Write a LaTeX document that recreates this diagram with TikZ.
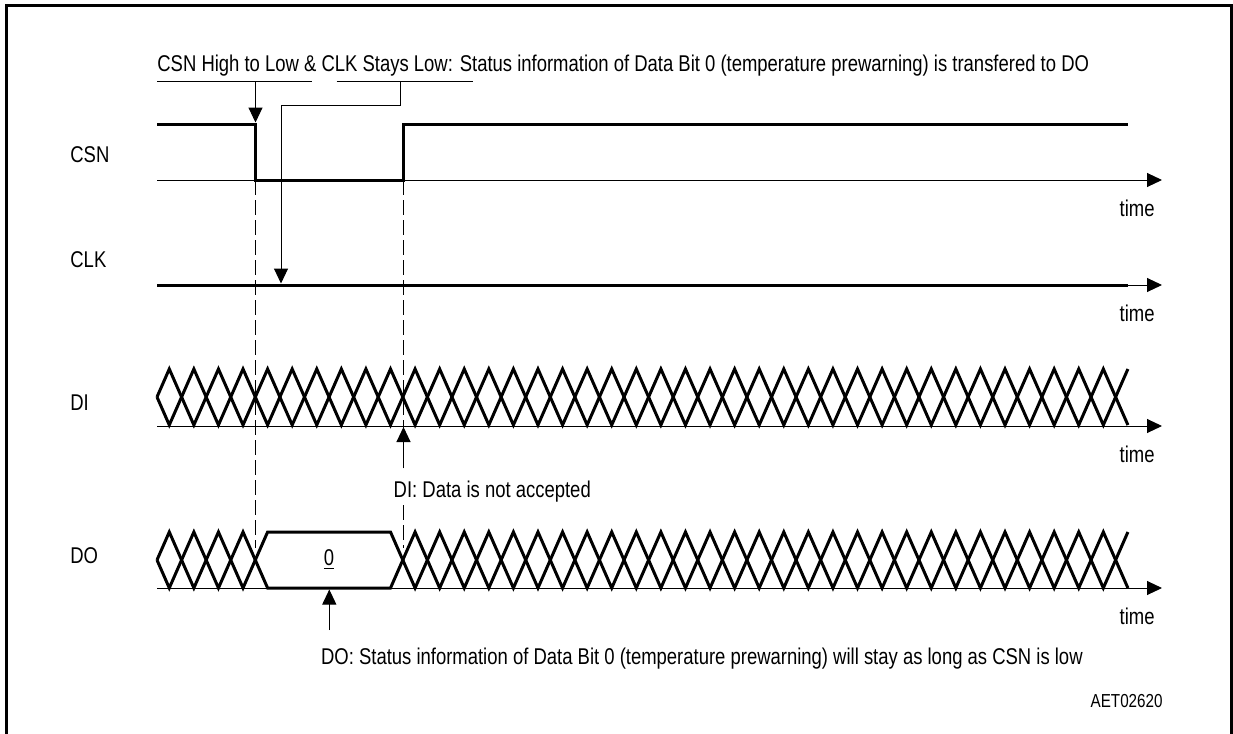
\documentclass[tikz,border=0pt]{standalone}
\usepackage{fontspec}
\setmainfont{Liberation Sans}[FakeStretch=0.81]
\usetikzlibrary{arrows.meta}
\begin{document}
\begin{tikzpicture}[x=0.5pt, y=-0.5pt,
    sig/.style={line width=1.5pt, line join=miter},
    axis/.style={line width=0.5pt, -{Triangle[length=7.5pt,width=7pt]}},
    pointer/.style={line width=0.5pt, -{Triangle[length=7.5pt,width=7pt]}},
    guide/.style={line width=0.5pt, dash pattern=on 7.5pt off 2.5pt},
    lbl/.style={anchor=base west, inner sep=0pt, font=\fontsize{11.4}{13}\selectfont},
    tlbl/.style={anchor=base east, inner sep=0pt, font=\fontsize{11.4}{13}\selectfont}]
\useasboundingbox (0,0) rectangle (1233,734);
\def\s{24.58}

% frame, open at the bottom
\draw [line width=1.4pt] (6.5,734) -- (6.5,5.3) -- (1231.7,5.3) -- (1231.7,734);

% signal names
\node [lbl] (csn) at (70,162) {CSN};
\node [lbl] (clk) at (70,267) {CLK};
\node [lbl] (di) at (70,410) {DI};
\node [lbl] (do) at (70,563) {DO};

% time axes
\foreach \wname/\y in {csn/180, clk/285, di/426, do/588} {
  \draw [axis] (157,\y) -- (1162,\y);
  \node [tlbl] (t\wname) at (1155,\y+36) {time};
}

% CSN and CLK
\coordinate (fall) at (255.5,180);
\coordinate (rise) at (403.5,180);
\draw [sig] (157,124) -- (255.5,124) -- (fall) -- (rise) -- (403.5,124) -- (1128,124);
\draw [sig] (157,285) -- (1128,285);

% DI, don't care all the way
\draw [sig] (157,397) \foreach \k in {0,...,39} { -- ({157+(\k+0.5)*\s},{369+56*mod(\k,2)}) };
\draw [sig] (157,397) \foreach \k in {0,...,39} { -- ({157+(\k+0.5)*\s},{425-56*mod(\k,2)}) };

% DO, bit 0 while CSN is low
\coordinate (dol) at (255.3,560);
\coordinate (dor) at (402.8,560);
\draw [sig] (157,560) \foreach \k in {0,...,3} { -- ({157+(\k+0.5)*\s},{532+56*mod(\k,2)}) } -- (dol);
\draw [sig] (157,560) \foreach \k in {0,...,3} { -- ({157+(\k+0.5)*\s},{588-56*mod(\k,2)}) } -- (dol);
\draw [sig] (dol) -- ({157+4.5*\s},532) -- ({157+9.5*\s},532) -- (dor) -- ({157+9.5*\s},588) -- ({157+4.5*\s},588) -- cycle;
\draw [sig] (dor) \foreach \k in {10,...,39} { -- ({157+(\k+0.5)*\s},{532+56*mod(\k,2)}) };
\draw [sig] (dor) \foreach \k in {10,...,39} { -- ({157+(\k+0.5)*\s},{588-56*mod(\k,2)}) };
\node [font=\fontsize{11.4}{13}\selectfont] (bit) at (329,560) {\underline{0}};

% guide lines
\draw [guide] (fall) -- (255.5,548);
\draw [guide] (rise) -- (403.5,428);
\draw [guide] (403.5,505) -- (403.5,548);

% notes
\node [lbl] (note) at (157,71.7) {CSN High to Low \& CLK Stays Low: Status information of Data Bit 0 (temperature prewarning) is transfered to DO};
\coordinate (ula) at (157,81.7);
\coordinate (ulb) at (311.7,81.7);
\coordinate (ulc) at (336.7,81.7);
\coordinate (uld) at (473.3,81.7);
\draw [line width=0.5pt] (ula) -- (ulb);
\draw [line width=0.5pt] (ulc) -- (uld);
\draw [pointer] (255.5,81.7) -- (255.5,122.5);
\draw [pointer] (400,81.7) -- (400,105.7) -- (281,105.7) -- (281,283.5);

\node [lbl] (dinote) at (393.3,497.3) {DI: Data is not accepted};
\draw [pointer] (403.5,468.3) -- (403.5,427);
\node [lbl] (donote) at (320.7,664) {DO: Status information of Data Bit 0 (temperature prewarning) will stay as long as CSN is low};
\draw [pointer] (329.3,630) -- (329.3,589.5);

\node [tlbl, font=\fontsize{9.4}{11}\selectfont] (code) at (1163,707) {AET02620};
\end{tikzpicture}
\end{document}
